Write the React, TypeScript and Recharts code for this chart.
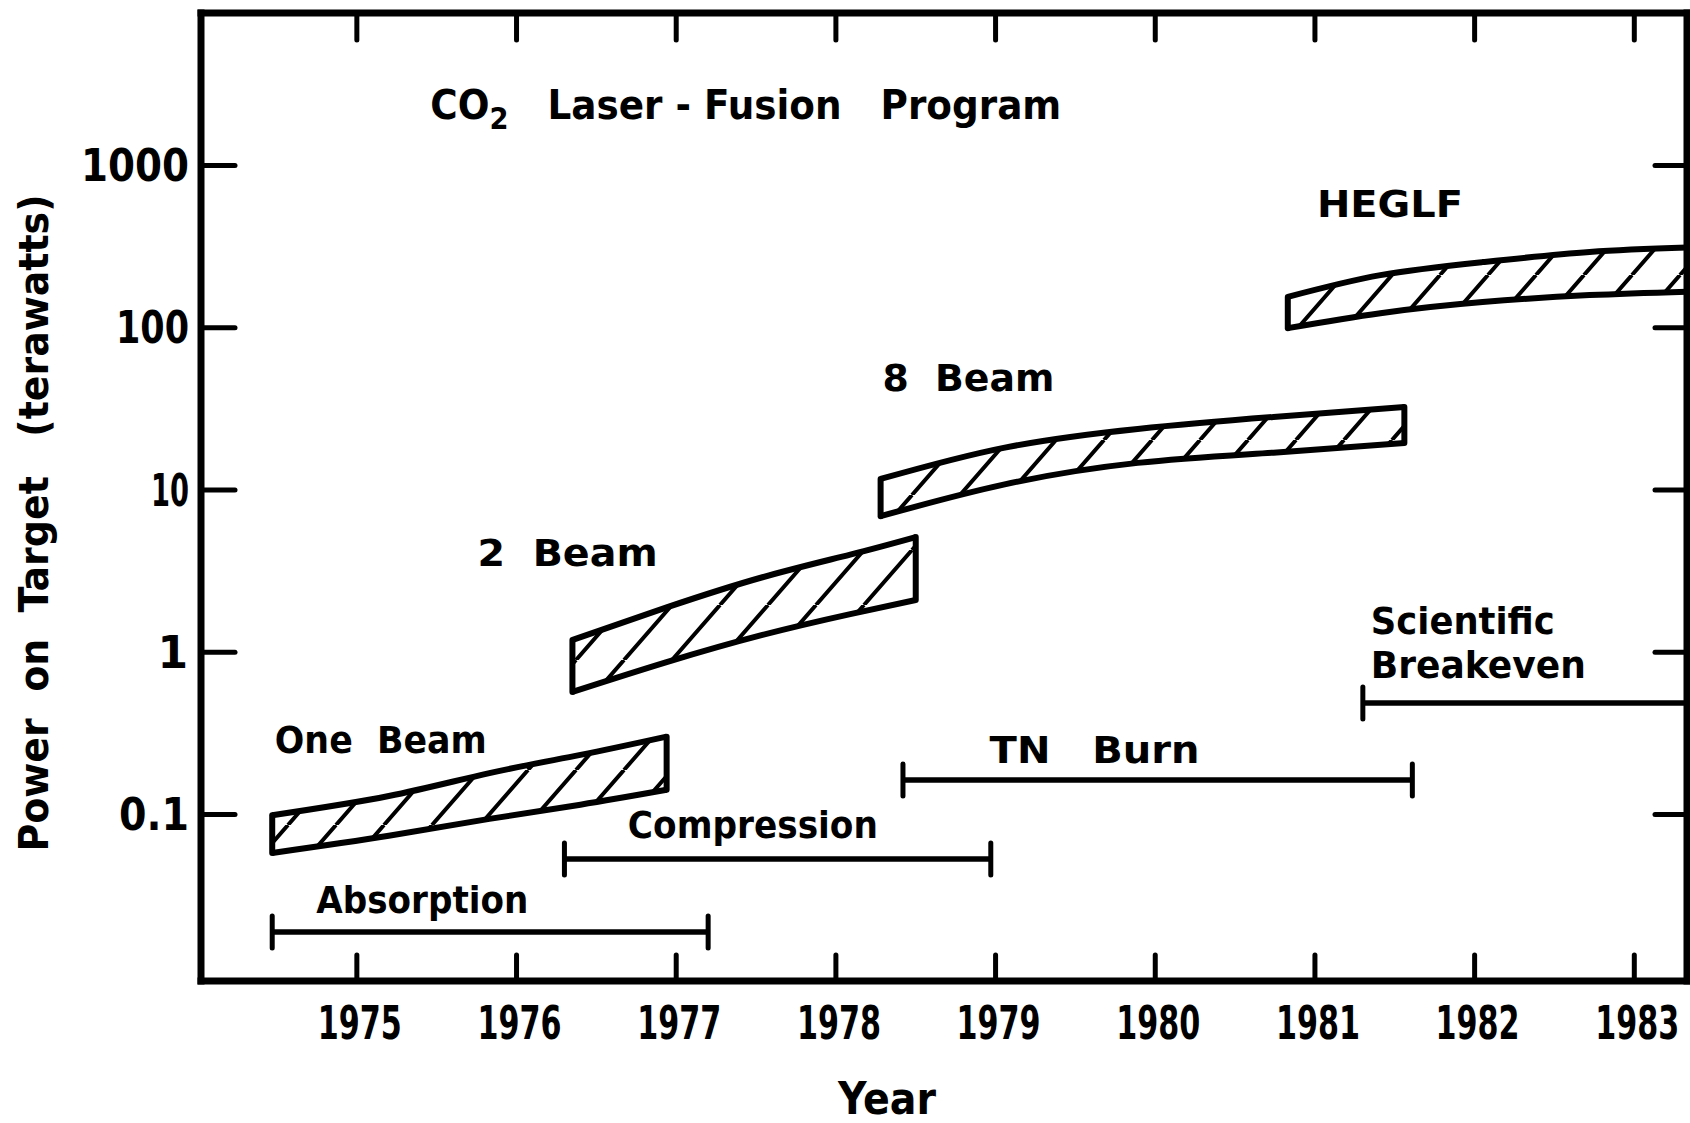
import React from 'react';
import { ComposedChart, Area, XAxis, YAxis, ReferenceLine, ReferenceDot, Label } from 'recharts';

// axis extents
const X_MIN = 1974.024;
const X_MAX = 1983.33;
const Y_MIN = 0.00942;
const Y_MAX = 8710;

const years = [1975, 1976, 1977, 1978, 1979, 1980, 1981, 1982, 1983];
const powerTicks = [0.1, 1, 10, 100, 1000];

// hatched bands: lower / upper power (TW) at a few years
const oneBeam = [
  { year: 1974.47, lo: 0.058, hi: 0.099 },
  { year: 1975.2, lo: 0.074, hi: 0.13 },
  { year: 1975.83, lo: 0.094, hi: 0.18 },
  { year: 1976.4, lo: 0.115, hi: 0.233 },
  { year: 1976.94, lo: 0.142, hi: 0.302 },
];
const twoBeam = [
  { year: 1976.35, lo: 0.57, hi: 1.19 },
  { year: 1976.94, lo: 0.87, hi: 1.89 },
  { year: 1977.54, lo: 1.28, hi: 2.9 },
  { year: 1978.09, lo: 1.72, hi: 4.0 },
  { year: 1978.5, lo: 2.1, hi: 5.13 },
];
const eightBeam = [
  { year: 1978.28, lo: 6.9, hi: 11.7 },
  { year: 1979.05, lo: 10.8, hi: 18.2 },
  { year: 1979.89, lo: 14.7, hi: 23.8 },
  { year: 1980.74, lo: 17.0, hi: 28.2 },
  { year: 1981.56, lo: 19.5, hi: 32.5 },
];
const heglf = [
  { year: 1980.83, lo: 99.5, hi: 155 },
  { year: 1981.41, lo: 123, hi: 211 },
  { year: 1982.05, lo: 144, hi: 254 },
  { year: 1982.72, lo: 159, hi: 293 },
  { year: 1983.33, lo: 167, hi: 312 },
];

// program phases (horizontal bars)
const phases = [
  { name: 'Absorption', start: 1974.47, end: 1977.2, level: 0.0189 },
  { name: 'Compression', start: 1976.3, end: 1978.97, level: 0.0532 },
  { name: 'TN Burn', start: 1978.42, end: 1981.61, level: 0.163 },
  { name: 'Scientific Breakeven', start: 1981.3, end: 1983.33, level: 0.487 },
];

// text annotations placed in data space
const annotations = [
  { text: 'One  Beam', year: 1975.15, value: 0.286 },
  { text: '2  Beam', year: 1976.32, value: 4.09 },
  { text: '8  Beam', year: 1978.83, value: 49 },
  { text: 'HEGLF', year: 1981.47, value: 582 },
  { text: 'Absorption', year: 1975.41, value: 0.0297 },
  { text: 'Compression', year: 1977.48, value: 0.0868 },
  { text: 'TN   Burn', year: 1979.62, value: 0.25 },
];
const breakevenLines = [
  { text: 'Scientific', year: 1981.35, value: 1.56 },
  { text: 'Breakeven', year: 1981.35, value: 0.834 },
];
const titlePos = { year: 1975.46, value: 2344 };

const bands: Record<string, { year: number; lo: number; hi: number }[]> = { oneBeam, twoBeam, eightBeam, heglf };

const rows = Object.entries(bands)
  .flatMap(([key, pts]) => pts.map(p => ({ year: p.year, [key]: [p.lo, p.hi] })))
  .sort((a, b) => a.year - b.year);

const textWidths: Record<string, number> = {
  'One  Beam': 212,
  '2  Beam': 180,
  '8  Beam': 172,
  HEGLF: 146,
  Absorption: 212,
  Compression: 250,
  'TN   Burn': 210,
  Scientific: 184,
  Breakeven: 215,
};
const yTickWidths: Record<string, number> = { '1000': 108, '100': 73, '10': 38, '0.1': 70 };

const FONT = "'DejaVu Sans', 'Liberation Sans', sans-serif";
const INK = '#000';

function HandText({ x, y, width, size = 38, anchor = 'middle', children, transform }: any) {
  return (
    <text
      x={x}
      y={y}
      fontSize={size}
      fontFamily={FONT}
      fontWeight="bold"
      textAnchor={anchor}
      dominantBaseline="central"
      textLength={width}
      lengthAdjust={width ? 'spacingAndGlyphs' : undefined}
      style={{ whiteSpace: 'pre' }}
      fill={INK}
      transform={transform}
    >
      {children}
    </text>
  );
}

const BottomTick = ({ x, y, payload }: any) => (
  <g>
    <line x1={x} x2={x} y1={y} y2={y - 26} stroke={INK} strokeWidth={5} strokeLinecap="round" />
    <HandText x={x + 3} y={y + 42} size={46} width={84}>{String(payload.value)}</HandText>
  </g>
);

const TopTick = ({ x, y }: any) => (
  <line x1={x} x2={x} y1={y} y2={y + 27} stroke={INK} strokeWidth={5} strokeLinecap="round" />
);

const LeftTick = ({ x, y, payload }: any) => {
  const label = String(payload.value);
  return (
    <g>
      <line x1={x} x2={x + 34} y1={y} y2={y} stroke={INK} strokeWidth={5} strokeLinecap="round" />
      <HandText x={label === '1' ? x - 13 : x - 12} y={y} size={44} anchor="end" width={yTickWidths[label]}>
        {label}
      </HandText>
    </g>
  );
};

const RightTick = ({ x, y }: any) => (
  <line x1={x} x2={x - 32} y1={y} y2={y} stroke={INK} strokeWidth={5} strokeLinecap="round" />
);

const PhaseBar = ({ x1, y1, x2, y2, capEnd }: any) => (
  <g>
    <line x1={x1} y1={y1} x2={x2} y2={y2} stroke={INK} strokeWidth={5.5} />
    <line x1={x1} x2={x1} y1={y1 - 16} y2={y1 + 16} stroke={INK} strokeWidth={5} strokeLinecap="round" />
    {capEnd && <line x1={x2} x2={x2} y1={y2 - 16} y2={y2 + 16} stroke={INK} strokeWidth={5} strokeLinecap="round" />}
  </g>
);

const YTitle = (props: any) => {
  const vb = props.viewBox || { x: 0, y: 13, width: 201, height: 968 };
  const cx = vb.x + 34;
  const cy = vb.y + vb.height / 2 + 26;
  return (
    <HandText x={cx} y={cy} size={40} width={657} transform={`rotate(-90 ${cx} ${cy})`}>
      {'Power  on  Target   (terawatts)'}
    </HandText>
  );
};

const XTitle = (props: any) => {
  const vb = props.viewBox || { x: 201, y: 981, width: 1486, height: 142 };
  return (
    <HandText x={vb.x + 686} y={vb.y + 117} size={44} width={98}>
      Year
    </HandText>
  );
};

export default function App() {
  return (
    <div style={{ position: 'absolute', left: 0, top: 0, background: '#fff' }}>
      <ComposedChart width={1690} height={1123} data={rows} margin={{ top: 0, right: 0, bottom: 0, left: 0 }}>
        <defs>
          <pattern id="hatch" patternUnits="userSpaceOnUse" width={48} height={55}>
            <path d="M0,55 L48,0 M-48,55 L0,0 M48,55 L96,0" stroke={INK} strokeWidth={4} />
          </pattern>
        </defs>

        <XAxis
          dataKey="year"
          type="number"
          domain={[X_MIN, X_MAX]}
          allowDataOverflow
          ticks={years}
          interval={0}
          height={142}
          tickSize={0}
          tickMargin={0}
          tickLine={false}
          tick={<BottomTick />}
          axisLine={{ stroke: INK, strokeWidth: 7, strokeLinecap: 'square' }}
          label={<Label content={XTitle} />}
        />
        <XAxis
          xAxisId="top"
          orientation="top"
          dataKey="year"
          type="number"
          domain={[X_MIN, X_MAX]}
          allowDataOverflow
          ticks={years}
          interval={0}
          height={13}
          tickSize={0}
          tickMargin={0}
          tickLine={false}
          tick={<TopTick />}
          axisLine={{ stroke: INK, strokeWidth: 7, strokeLinecap: 'square' }}
        />
        <YAxis
          scale="log"
          type="number"
          domain={[Y_MIN, Y_MAX]}
          allowDataOverflow
          ticks={powerTicks}
          interval={0}
          width={201}
          tickSize={0}
          tickMargin={0}
          tickLine={false}
          tick={<LeftTick />}
          axisLine={{ stroke: INK, strokeWidth: 7, strokeLinecap: 'square' }}
          label={<Label content={YTitle} />}
        />
        <YAxis
          yAxisId="right"
          orientation="right"
          scale="log"
          type="number"
          domain={[Y_MIN, Y_MAX]}
          allowDataOverflow
          ticks={powerTicks}
          interval={0}
          width={3}
          tickSize={0}
          tickMargin={0}
          tickLine={false}
          tick={<RightTick />}
          axisLine={{ stroke: INK, strokeWidth: 7, strokeLinecap: 'square' }}
        />

        {Object.keys(bands).map(key => (
          <Area
            key={key}
            type="natural"
            dataKey={key}
            stroke={INK}
            strokeWidth={6}
            fill="url(#hatch)"
            fillOpacity={1}
            connectNulls
            dot={false}
            activeDot={false}
            isAnimationActive={false}
          />
        ))}

        {Object.entries(bands).flatMap(([key, pts]) =>
          [pts[0], pts[pts.length - 1]].map((p, i) => (
            <ReferenceLine
              key={`${key}-end-${i}`}
              segment={[{ x: p.year, y: p.lo }, { x: p.year, y: p.hi }]}
              stroke={INK}
              strokeWidth={6}
              strokeLinecap="round"
              ifOverflow="visible"
            />
          ))
        )}

        {phases.map(ph => (
          <ReferenceLine
            key={ph.name}
            segment={[{ x: ph.start, y: ph.level }, { x: ph.end, y: ph.level }]}
            ifOverflow="visible"
            shape={(p: any) => <PhaseBar {...p} capEnd={ph.end < X_MAX} />}
          />
        ))}

        {annotations.map(a => (
          <ReferenceDot
            key={a.text}
            x={a.year}
            y={a.value}
            r={1}
            ifOverflow="visible"
            shape={(p: any) => (
              <HandText x={p.cx} y={p.cy} width={textWidths[a.text]}>
                {a.text}
              </HandText>
            )}
          />
        ))}

        {breakevenLines.map(a => (
          <ReferenceDot
            key={a.text}
            x={a.year}
            y={a.value}
            r={1}
            ifOverflow="visible"
            shape={(p: any) => (
              <HandText x={p.cx} y={p.cy} anchor="start" width={textWidths[a.text]}>
                {a.text}
              </HandText>
            )}
          />
        ))}

        <ReferenceDot
          x={titlePos.year}
          y={titlePos.value}
          r={1}
          ifOverflow="visible"
          shape={(p: any) => (
            <text
              x={p.cx}
              y={p.cy}
              fontSize={41}
              fontFamily={FONT}
              fontWeight="bold"
              textAnchor="start"
              dominantBaseline="central"
              textLength={631}
              lengthAdjust="spacingAndGlyphs"
              style={{ whiteSpace: 'pre' }}
              fill={INK}
            >
              <tspan>CO</tspan>
              <tspan dy={13} fontSize={30}>2</tspan>
              <tspan dy={-13}>{'   Laser - Fusion   Program'}</tspan>
            </text>
          )}
        />
      </ComposedChart>
    </div>
  );
}
